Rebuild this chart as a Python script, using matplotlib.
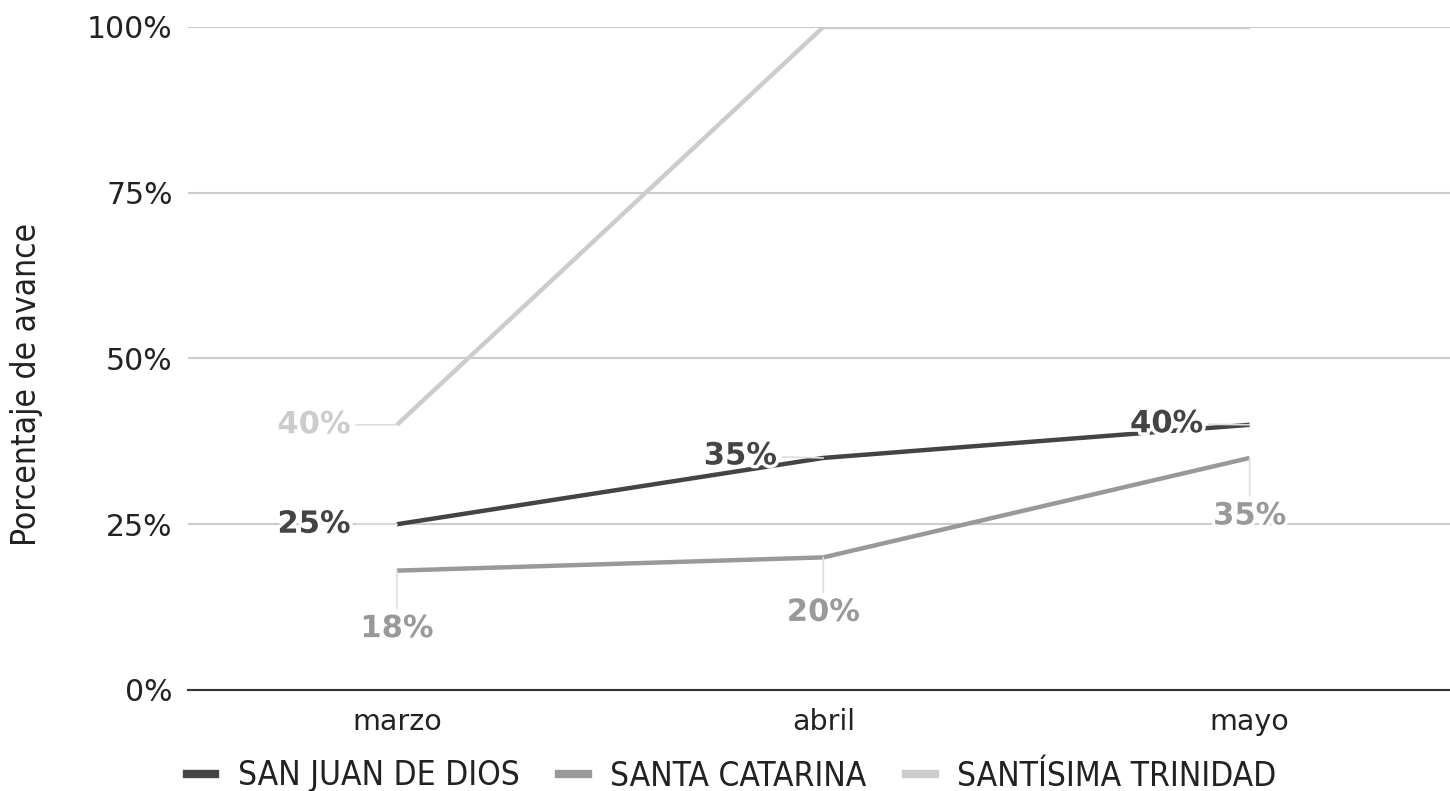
import matplotlib
matplotlib.use("Agg")
import matplotlib.pyplot as plt
import matplotlib.patheffects as pe
from matplotlib.ticker import FuncFormatter
from matplotlib.lines import Line2D
from matplotlib import font_manager

# Datos
meses = ["marzo", "abril", "mayo"]
san_juan = [25, 35, 40]
santa_catarina = [18, 20, 35]
santisima = [40, 100, 100]

series = [
    ("SAN JUAN DE DIOS", san_juan, "#444444"),
    ("SANTA CATARINA", santa_catarina, "#999999"),
    ("SANTÍSIMA TRINIDAD", santisima, "#cccccc"),
]

# Etiquetas: (serie, indice, dx, dy) en pixeles
etiquetas = [
    (0, 0, -83, 0), (0, 1, -83, 2), (0, 2, -83, 1),
    (1, 0, 0, -58), (1, 1, 0, -55), (1, 2, 0, -58),
    (2, 0, -83, 0),
]

cond = font_manager.FontProperties(family="DejaVu Sans", stretch="condensed", size=24)

fig = plt.figure(figsize=(14.5, 7.91), dpi=100)
ax = fig.add_axes([0.1297, 0.1277, 0.8703, 0.8382])

x = list(range(len(meses)))
for nombre, vals, color in series:
    ax.plot(x, vals, color=color, lw=3.2, solid_capstyle="butt", zorder=3)

for s, i, dx, dy in etiquetas:
    nombre, vals, color = series[s]
    ax.annotate(f"{vals[i]}%", xy=(x[i], vals[i]), xytext=(dx, dy),
                textcoords="offset pixels", ha="center", va="center",
                fontsize=22, fontweight="bold", color=color, zorder=5,
                path_effects=[pe.withStroke(linewidth=5, foreground="white")],
                arrowprops=dict(arrowstyle="-", color="#dddddd", lw=1.2,
                                shrinkA=2, shrinkB=0))

ax.set_xlim(-0.49, 2.47)
ax.set_ylim(0, 100)
ax.set_yticks([0, 25, 50, 75, 100])
ax.yaxis.set_major_formatter(FuncFormatter(lambda v, p: f"{v:.0f}%"))
ax.grid(axis="y", color="#cccccc", lw=1.5)
ax.set_axisbelow(True)
for sp in ["top", "right", "left"]:
    ax.spines[sp].set_visible(False)
ax.spines["bottom"].set_color("#333333")
ax.spines["bottom"].set_linewidth(1.5)
ax.tick_params(axis="y", length=0, pad=11, labelsize=21.5, colors="#222222")
ax.tick_params(axis="x", length=0, pad=13, labelsize=20.5, colors="#222222")
ax.set_xticks(x)
ax.set_xticklabels(meses)

fig.text(27 / 1450, 1 - 384 / 791, "Porcentaje de avance", fontproperties=cond,
         rotation=90, ha="center", va="center", color="#222222")

handles = [Line2D([], [], color=c, lw=6) for _, _, c in series]
fig.legend(handles, [n for n, _, _ in series], loc="center left",
           bbox_to_anchor=(187 / 1450, 1 - 776 / 791), ncol=3, frameon=False,
           prop=cond, handlelength=0.85, borderpad=0, borderaxespad=0,
           columnspacing=1.2, handletextpad=0.67, labelcolor="#222222")

fig.savefig("out.png", dpi=100)
